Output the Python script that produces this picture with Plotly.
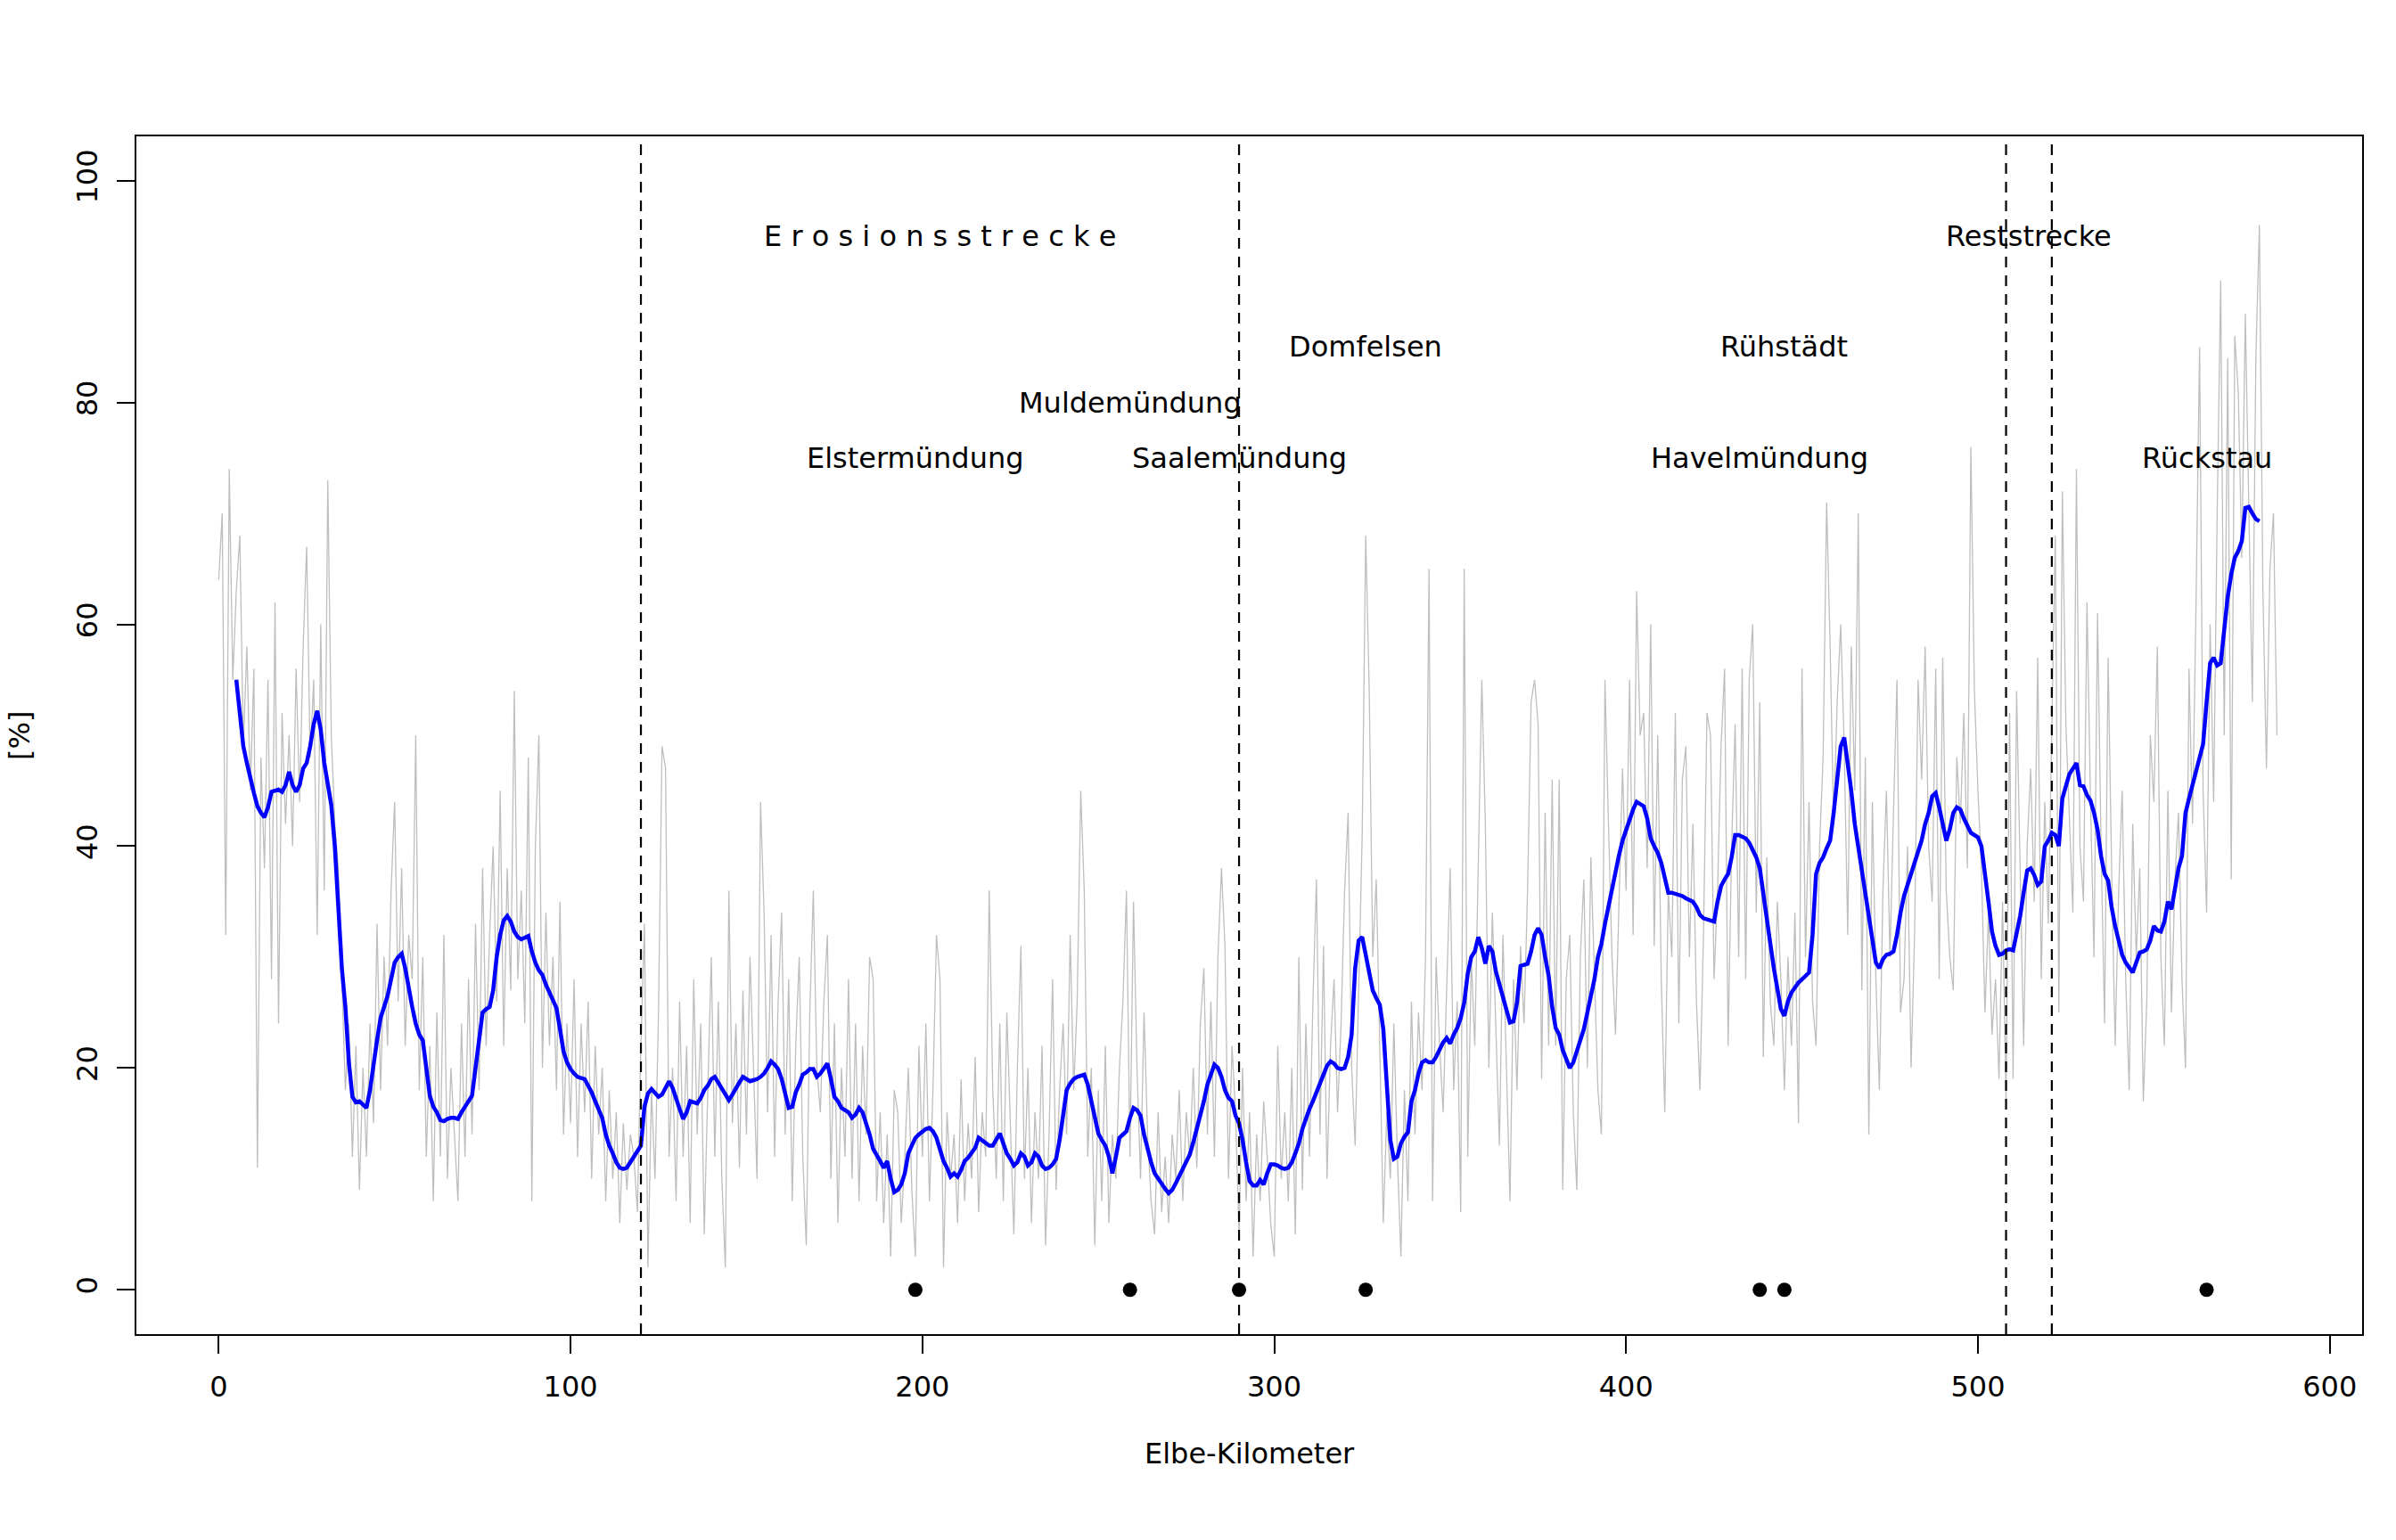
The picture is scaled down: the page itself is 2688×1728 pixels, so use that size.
import plotly.graph_objects as go

# ---------------- data ----------------
gray_start_km = 0
gray_values = [
    64, 70, 32, 74, 55, 63, 68, 49, 58, 45,
    56, 11, 48, 38, 55, 28, 62, 24, 52, 42,
    50, 40, 56, 44, 58, 67, 48, 55, 32, 60,
    36, 73, 50, 42, 38, 28, 18, 24, 12, 22,
    9, 20, 12, 24, 15, 33, 18, 30, 22, 36,
    44, 26, 38, 22, 32, 28, 50, 18, 30, 12,
    22, 8, 25, 12, 32, 10, 20, 14, 8, 24,
    12, 28, 14, 33, 18, 38, 22, 32, 40, 26,
    45, 22, 38, 27, 54, 28, 36, 24, 48, 8,
    40, 50, 20, 34, 22, 30, 18, 35, 14, 24,
    15, 28, 12, 24, 16, 26, 10, 22, 14, 20,
    8, 18, 10, 16, 6, 15, 9, 14, 12, 7,
    22, 33, 2, 18, 10, 25, 49, 47, 12, 20,
    8, 26, 12, 22, 6, 28, 14, 24, 5, 18,
    30, 12, 26, 10, 2, 36, 15, 24, 11, 27,
    14, 30, 20, 10, 44, 34, 16, 32, 12, 26,
    34, 14, 28, 8, 22, 30, 12, 4, 25, 36,
    20, 16, 26, 32, 10, 24, 6, 20, 12, 28,
    10, 24, 8, 22, 14, 30, 28, 8, 16, 6,
    14, 3, 18, 16, 6, 12, 20, 9, 3, 22,
    12, 24, 8, 18, 32, 28, 2, 16, 10, 14,
    6, 19, 8, 15, 10, 21, 7, 16, 12, 36,
    18, 10, 24, 8, 25, 14, 5, 20, 31, 10,
    20, 6, 16, 10, 22, 4, 14, 28, 9, 18,
    24, 14, 32, 18, 26, 45, 36, 12, 20, 4,
    18, 8, 22, 6, 14, 10, 20, 26, 36, 12,
    35, 20, 10, 25, 14, 8, 5, 16, 7, 12,
    6, 14, 10, 18, 8, 16, 12, 20, 11, 24,
    29, 14, 26, 12, 30, 38, 31, 10, 22, 16,
    5, 20, 8, 16, 3, 14, 8, 17, 12, 6,
    3, 22, 10, 16, 8, 20, 5, 30, 9, 24,
    12, 26, 37, 14, 31, 10, 22, 28, 16, 24,
    36, 43, 20, 13, 28, 41, 68, 54, 30, 37,
    22, 6, 16, 10, 24, 12, 3, 18, 8, 26,
    14, 25, 18, 30, 65, 8, 30, 22, 16, 28,
    38, 18, 26, 7, 65, 12, 30, 22, 40, 55,
    42, 20, 34, 24, 13, 32, 20, 8, 28, 18,
    31, 24, 36, 53, 55, 51, 19, 43, 22, 46,
    22, 46, 9, 28, 32, 16, 9, 30, 37, 20,
    39, 28, 18, 14, 55, 42, 30, 23, 35, 47,
    36, 55, 32, 63, 50, 52, 38, 60, 31, 50,
    28, 16, 36, 30, 52, 24, 46, 49, 30, 42,
    26, 18, 32, 52, 50, 28, 36, 49, 56, 22,
    40, 51, 30, 56, 28, 55, 60, 34, 53, 21,
    39, 26, 22, 35, 28, 18, 30, 22, 34, 15,
    56, 30, 44, 26, 22, 40, 48, 71, 58, 42,
    53, 60, 49, 32, 58, 45, 70, 27, 48, 14,
    44, 28, 18, 36, 45, 30, 43, 55, 25, 28,
    40, 20, 32, 55, 46, 58, 40, 35, 56, 28,
    57, 36, 30, 27, 48, 42, 52, 38, 76, 54,
    45, 38, 25, 34, 23, 28, 19, 35, 17, 52,
    19, 54, 38, 22, 40, 47, 35, 57, 28, 44,
    33, 50, 68, 25, 72, 51, 42, 34, 74, 40,
    35, 62, 44, 30, 61, 40, 24, 57, 38, 22,
    36, 45, 28, 18, 42, 30, 38, 17, 26, 50,
    44, 58, 30, 22, 45, 25, 37, 43, 28, 20,
    56, 42, 62, 85, 45, 34, 60, 44, 70, 91,
    50, 84, 37, 86, 81, 66, 88, 70, 53, 84,
    96, 63, 47, 65, 70, 50,
]

blue_start_km = 5
blue_values = [
    55, 52, 49, 47.5, 46,
    44.8, 43.6, 43, 42.6, 43.5, 44.9, 45, 45.1, 44.9, 45.5,
    46.7, 45.5, 44.9, 45.5, 47, 47.5, 49, 51, 52.2, 50.5,
    47.5, 45.5, 43.7, 40, 35, 29, 25.5, 20.5, 17.4, 16.9,
    17, 16.7, 16.4, 18, 20.5, 22.5, 24.5, 25.5, 26.5, 28,
    29.5, 30, 30.3, 29, 27, 25.5, 24, 23, 22.5, 20,
    17.5, 16.5, 16, 15.3, 15.2, 15.4, 15.5, 15.5, 15.4, 16,
    16.5, 17, 17.5, 20, 22.5, 25, 25.3, 25.5, 27, 30,
    32, 33.3, 33.7, 33.2, 32.3, 31.8, 31.6, 31.8, 31.9, 30.5,
    29.5, 28.8, 28.4, 27.5, 26.8, 26, 25.4, 23.5, 21.5, 20.5,
    19.9, 19.5, 19.2, 19.1, 19, 18.4, 17.8, 17, 16.2, 15.5,
    14, 13, 12.3, 11.5, 11, 10.9, 11, 11.5, 12, 12.5,
    13, 16.5, 17.7, 18.1, 17.8, 17.4, 17.6, 18.2, 18.8, 18.2,
    17.1, 16.3, 15.4, 16, 17, 16.9, 16.8, 17.3, 18, 18.4,
    19, 19.2, 18.7, 18.2, 17.6, 17.1, 17.6, 18.2, 18.7, 19.2,
    19, 18.8, 18.9, 19, 19.2, 19.5, 20, 20.6, 20.3, 19.9,
    19, 17.5, 16.4, 16.5, 17.8, 18.5, 19.4, 19.6, 19.9, 19.9,
    19.2, 19.5, 20, 20.4, 19, 17.4, 17, 16.4, 16.2, 16,
    15.5, 15.8, 16.4, 16, 15, 14, 12.7, 12.2, 11.6, 11,
    11.6, 10, 8.8, 9, 9.5, 10.5, 12.3, 13, 13.7, 14,
    14.3, 14.5, 14.6, 14.3, 13.7, 12.6, 11.6, 11, 10.2, 10.5,
    10.2, 10.8, 11.6, 11.9, 12.3, 12.8, 13.7, 13.5, 13.2, 13,
    13, 13.5, 14.1, 13.2, 12.3, 11.8, 11.2, 11.5, 12.3, 12,
    11.2, 11.5, 12.3, 12, 11.2, 10.9, 11, 11.3, 11.8, 13.5,
    16, 18, 18.6, 19, 19.2, 19.3, 19.4, 18.5, 17.1, 15.5,
    14.1, 13.5, 13, 12, 10.5, 12, 13.7, 14, 14.3, 15.5,
    16.4, 16.2, 15.7, 14, 12.7, 11.5, 10.5, 10, 9.5, 9.1,
    8.7, 9, 9.6, 10.3, 11, 11.5, 12.2, 13.3, 14.5, 15.5,
    17, 18.5, 19.5, 20.3, 20, 19.2, 18, 17.3, 17, 15.7,
    15, 13.5, 11.5, 9.8, 9.4, 9.4, 9.9, 9.5, 10.5, 11.3,
    11.3, 11.2, 11, 10.9, 11, 11.5, 12.3, 13.2, 14.5, 15.5,
    16.3, 17, 17.8, 18.6, 19.5, 20.2, 20.6, 20.4, 20, 19.9,
    20, 21, 23, 29, 31.5, 31.8, 30.2, 28.4, 27, 26.3,
    25.7, 23.5, 18, 13.5, 11.8, 12, 13.2, 13.8, 14.2, 17,
    18, 19.5, 20.5, 20.7, 20.5, 20.5, 21, 21.7, 22.3, 22.7,
    22.2, 23, 23.6, 24.5, 25.9, 28.5, 30, 30.5, 31.8, 30.8,
    29.4, 31, 30.5, 28.7, 27.5, 26.2, 25, 24.1, 24.2, 25.9,
    29.2, 29.3, 29.4, 30.5, 32, 32.6, 32, 30, 28.3, 25.5,
    23.6, 23, 21.6, 20.8, 20, 20.5, 21.5, 22.5, 23.5, 25,
    26.4, 28, 30, 31.2, 33, 34.6, 36, 37.5, 39.2, 40.5,
    41.5, 42.5, 43.3, 44, 43.8, 43.6, 42.5, 40.7, 40, 39.4,
    38.5, 37, 35.8, 35.8, 35.7, 35.6, 35.5, 35.3, 35.1, 35,
    34.5, 33.8, 33.5, 33.4, 33.3, 33.2, 35, 36.4, 37, 37.5,
    39, 41, 41, 40.8, 40.7, 40.3, 39.6, 39, 38, 35.5,
    33, 31.2, 29, 27, 25.3, 24.7, 26, 26.8, 27.3, 27.7,
    28, 28.3, 28.6, 32, 37.5, 38.5, 39, 39.8, 40.5, 43,
    46, 49, 49.8, 47.5, 45, 42, 40, 38, 36, 34,
    32, 29.5, 29, 29.8, 30.2, 30.3, 30.5, 32, 34, 35.5,
    36.5, 37.5, 38.5, 39.5, 40.5, 42, 43, 44.5, 44.8, 43.5,
    42, 40.5, 41.5, 43, 43.5, 43.3, 42.5, 41.8, 41.2, 41,
    40.8, 40, 37.8, 35, 32.3, 31, 30.2, 30.3, 30.6, 30.7,
    30.6, 32, 33.7, 35.8, 37.8, 38, 37.4, 36.5, 36.8, 40,
    40.5, 41.2, 41, 40, 44.3, 45.4, 46.5, 47, 47.5, 45.5,
    45.4, 44.6, 44.1, 43, 41.5, 39.1, 37.5, 36.9, 34.5, 32.8,
    31.5, 30.2, 29.5, 29, 28.6, 29.5, 30.4, 30.5, 30.7, 31.5,
    32.8, 32.4, 32.3, 33.2, 35, 34.3, 36.2, 38, 39.1, 43,
    44.3, 45.5, 46.7, 48, 49.2, 53, 56.5, 57, 56.3, 56.5,
    60, 62.5, 64.5, 66, 66.6, 67.5, 70.5, 70.6, 70, 69.5,
    69.3,
]

section_bounds_km = [120, 290, 508, 521]

site_km = [198, 259, 290, 326, 438, 445, 565]
site_value = [0, 0, 0, 0, 0, 0, 0]

label_text = ["E r o s i o n s s t r e c k e", "Reststrecke", "Domfelsen", "Rühstädt",
              "Muldemündung", "Elstermündung", "Saalemündung", "Havelmündung", "Rückstau"]
label_km = [205, 514.5, 326, 445, 259, 198, 290, 438, 565]
label_y = [95, 95, 85, 85, 80, 75, 75, 75, 75]

x_ticks = [0, 100, 200, 300, 400, 500, 600]
y_ticks = [0, 20, 40, 60, 80, 100]

# ---------------- figure ----------------
gray_km = [gray_start_km + i for i in range(len(gray_values))]
blue_km = [blue_start_km + i for i in range(len(blue_values))]

FONT = "DejaVu Sans"
FS = 32

fig = go.Figure()
fig.add_trace(go.Scatter(x=gray_km, y=gray_values, mode="lines",
                         line=dict(color="#bebebe", width=1.3), showlegend=False))
fig.add_trace(go.Scatter(x=blue_km, y=blue_values, mode="lines",
                         line=dict(color="#0000ff", width=4.5), showlegend=False))
fig.add_trace(go.Scatter(x=site_km, y=site_value, mode="markers",
                         marker=dict(color="black", size=16), showlegend=False, cliponaxis=False))

for xb in section_bounds_km:
    fig.add_shape(type="line", xref="x", yref="paper", x0=xb, x1=xb, y0=0, y1=1,
                  line=dict(color="black", width=2.2, dash="12px,9px"))

for t, xk, yv in zip(label_text, label_km, label_y):
    fig.add_annotation(x=xk, y=yv, xref="x", yref="y", text=t, showarrow=False,
                       font=dict(family=FONT, size=FS, color="black"),
                       xanchor="center", yanchor="middle")

fig.add_annotation(xref="paper", yref="paper", x=0.5, y=-0.1, text="Elbe-Kilometer",
                   showarrow=False, font=dict(family=FONT, size=FS, color="black"),
                   xanchor="center", yanchor="middle")
fig.add_annotation(xref="paper", yref="paper", x=-0.0525, y=0.5, text="[%]", textangle=-90,
                   showarrow=False, borderpad=0,
                   font=dict(family=FONT, size=FS, color="black"),
                   xanchor="center", yanchor="middle")

axis_common = dict(showgrid=False, zeroline=False, showline=True, mirror=True,
                   linecolor="black", linewidth=2, ticks="outside", ticklen=20,
                   tickwidth=2, tickcolor="black",
                   tickfont=dict(family=FONT, size=FS, color="black"))

fig.update_layout(
    width=2680, height=1720,
    paper_bgcolor="white", plot_bgcolor="white",
    margin=dict(l=145, r=38, t=145, b=231),
    xaxis=dict(range=[-23.4, 609.2], tickvals=x_ticks, ticklabelstandoff=10, **axis_common),
    yaxis=dict(range=[-4, 104], tickvals=y_ticks, tickangle=-90, ticklabelstandoff=9,
               **axis_common),
    showlegend=False,
)

fig.write_html("out.html", config={"displayModeBar": False})
